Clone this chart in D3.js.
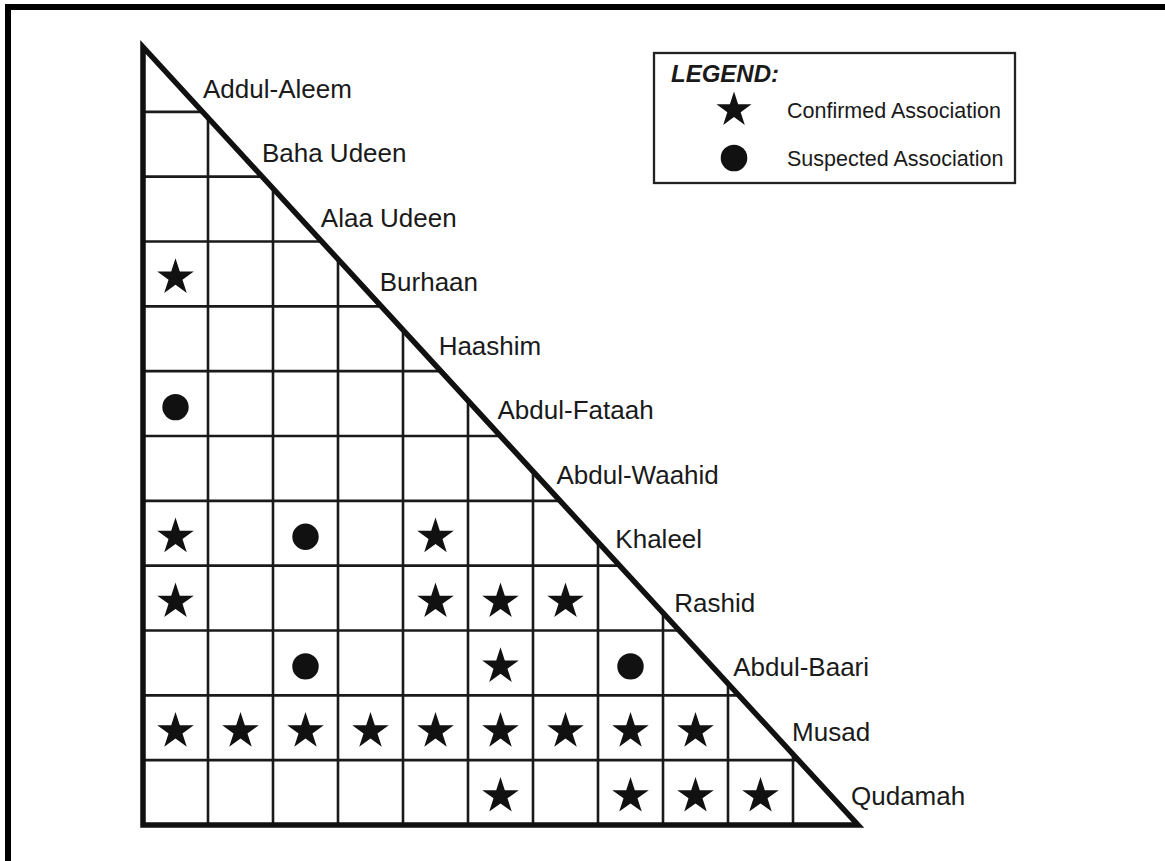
<!DOCTYPE html>
<html>
<head>
<meta charset="utf-8">
<script src="https://cdn.jsdelivr.net/npm/d3@7"></script>
<style>
  html, body { margin: 0; padding: 0; background: #fff; }
  svg { display: block; }
  text { font-family: "Liberation Sans", Arial, Helvetica, sans-serif; fill: #1a1a1a; }
</style>
</head>
<body>
<svg id="chart" width="1165" height="861"></svg>
<script>
// ---- Data ----
const names = ["Addul-Aleem", "Baha Udeen", "Alaa Udeen", "Burhaan", "Haashim", "Abdul-Fataah",
               "Abdul-Waahid", "Khaleel", "Rashid", "Abdul-Baari", "Musad", "Qudamah"];
// [row, column] pairs: row = person index, column = earlier person index
const confirmed = [
  [3, 0],
  [7, 0], [7, 4],
  [8, 0], [8, 4], [8, 5], [8, 6],
  [9, 5],
  [10, 0], [10, 1], [10, 2], [10, 3], [10, 4], [10, 5], [10, 6], [10, 7], [10, 8],
  [11, 5], [11, 7], [11, 8], [11, 9]
];
const suspected = [
  [5, 0],
  [7, 2],
  [9, 2], [9, 7]
];
const legendItems = [
  { label: "Confirmed Association", type: "star" },
  { label: "Suspected Association", type: "circle" }
];
const legendTitle = "LEGEND:";

// ---- Layout ----
const svg = d3.select("#chart");
const nCols = names.length - 1;  // 11
const nRows = names.length;      // 12
const x = d3.scaleLinear().domain([0, nCols]).range([143, 858]);
const y = d3.scaleLinear().domain([0, nRows]).range([47, 825]);
const diagX = yy => x(0) + (yy - y(0)) * (x(nCols) - x(0)) / (y(nRows) - y(0));
const diagY = xx => y(0) + (xx - x(0)) * (y(nRows) - y(0)) / (x(nCols) - x(0));

// outer frame (top + left only)
svg.append("path")
  .attr("d", "M8,861 L8,7 L1165,7")
  .attr("fill", "none").attr("stroke", "#000").attr("stroke-width", 6)
  .attr("stroke-linejoin", "miter");

// grid lines
const g = svg.append("g");
d3.range(1, nRows).forEach(k => {
  const yy = y(k);
  g.append("line").attr("x1", x(0)).attr("x2", diagX(yy)).attr("y1", yy).attr("y2", yy)
    .attr("stroke", "#1a1a1a").attr("stroke-width", 2.6);
});
d3.range(1, nCols).forEach(j => {
  const xx = x(j);
  g.append("line").attr("x1", xx).attr("x2", xx).attr("y1", diagY(xx)).attr("y2", y(nRows))
    .attr("stroke", "#1a1a1a").attr("stroke-width", 2.6);
});

// triangle outline
svg.append("path")
  .attr("d", `M${x(0)},${y(0)} L${x(0)},${y(nRows)} L${x(nCols)},${y(nRows)} Z`)
  .attr("fill", "none").attr("stroke", "#111").attr("stroke-width", 5.5)
  .attr("stroke-linejoin", "miter").attr("stroke-miterlimit", 10);

// markers
const starR = 19.2;
const starPath = d3.symbol().type(d3.symbolStar).size(starR * starR / 0.8908130915292852)();
const dyMark = 3.5;
svg.append("g").selectAll("path").data(confirmed).join("path")
  .attr("d", starPath)
  .attr("transform", d => `translate(${x(d[1] + 0.5)},${y(d[0] + 0.5) + dyMark})`)
  .attr("fill", "#111");
svg.append("g").selectAll("circle").data(suspected).join("circle")
  .attr("cx", d => x(d[1] + 0.5))
  .attr("cy", d => y(d[0] + 0.5) + dyMark)
  .attr("r", 13.2)
  .attr("fill", "#111");

// names along the diagonal
const labelX = d3.scaleLinear().domain([0, nRows - 1]).range([203, 851]);
const labelY = d3.scaleLinear().domain([0, nRows - 1]).range([98, 805]);
svg.append("g").selectAll("text").data(names).join("text")
  .attr("x", (d, i) => labelX(i))
  .attr("y", (d, i) => labelY(i))
  .attr("font-size", 26)
  .text(d => d);

// legend
const lg = svg.append("g");
lg.append("rect").attr("x", 654).attr("y", 53).attr("width", 361).attr("height", 130)
  .attr("fill", "#fff").attr("stroke", "#222").attr("stroke-width", 2.3);
lg.append("text").attr("x", 671).attr("y", 82)
  .attr("font-size", 24).attr("font-weight", "bold").attr("font-style", "italic")
  .text(legendTitle);
const legY = d3.scaleLinear().domain([0, 1]).range([110, 158]);
legendItems.forEach((it, i) => {
  const cy = legY(i);
  if (it.type === "star") {
    lg.append("path").attr("d", d3.symbol().type(d3.symbolStar).size(18.4 * 18.4 / 0.8908130915292852)())
      .attr("transform", `translate(734,${cy})`).attr("fill", "#111");
  } else {
    lg.append("circle").attr("cx", 734).attr("cy", cy).attr("r", 13.3).attr("fill", "#111");
  }
  lg.append("text").attr("x", 787).attr("y", cy + 7.5).attr("font-size", 21.5).text(it.label);
});
</script>
</body>
</html>
